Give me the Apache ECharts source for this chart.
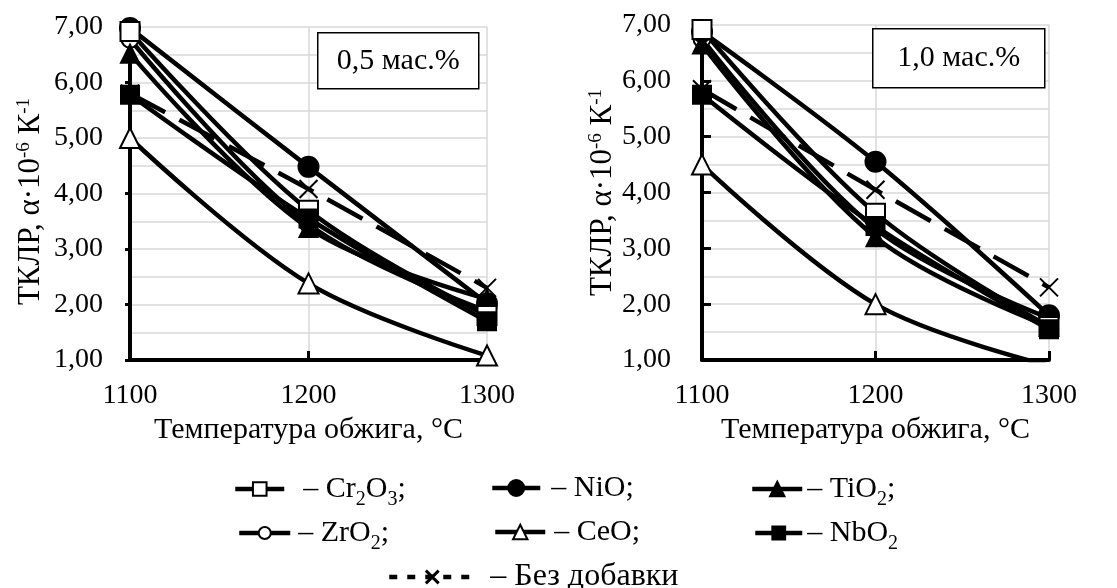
<!DOCTYPE html>
<html><head><meta charset="utf-8">
<script src="https://cdn.jsdelivr.net/npm/echarts@6/dist/echarts.min.js"></script>
<style>html,body{margin:0;padding:0;background:#fff}#c{width:1117px;height:588px}</style>
</head><body><div id="c"></div>
<script>
// ---------- data ----------
const categories = ['1100', '1200', '1300'];
const panelLabels = ['0,5 мас.%', '1,0 мас.%'];
const seriesNames = ['CeO', 'Без добавки', 'ZrO2', 'TiO2', 'NiO', 'Cr2O3', 'NbO2'];

// 0,5 мас.%
const cr05  = [6.92, 3.70, 1.80];
const nio05 = [6.98, 4.48, 2.02];
const tio05 = [6.52, 3.38, 2.10];
const zro05 = [6.78, 3.45, 1.88];
const ceo05 = [5.00, 2.38, 1.08];
const nbo05 = [5.78, 3.55, 1.70];
const base05 = [5.80, 4.08, 2.30];

// 1,0 мас.%
const cr10  = [6.92, 3.63, 1.60];
const nio10 = [6.88, 4.55, 1.80];
const tio10 = [6.65, 3.20, 1.60];
const zro10 = [6.75, 3.35, 1.75];
const ceo10 = [4.50, 2.00, 0.90];
const nbo10 = [5.75, 3.40, 1.55];
const base10 = [5.85, 4.05, 2.30];

const yMin = 1, yMax = 7, yStep = 1;

// ---------- styling ----------
const FONT = 'Liberation Serif';
const XPATH = 'path://M0,0L10,10M10,0L0,10';
const styles = {
  'Cr2O3':       {symbol: 'rect',     size: 19, fill: '#fff'},
  'NiO':         {symbol: 'circle',   size: 20, fill: '#000'},
  'TiO2':        {symbol: 'triangle', size: 18, fill: '#000'},
  'ZrO2':        {symbol: 'circle',   size: 17, fill: '#fff'},
  'CeO':         {symbol: 'triangle', size: 20, fill: '#fff'},
  'NbO2':        {symbol: 'rect',     size: 18, fill: '#000'},
  'Без добавки': {symbol: XPATH,      size: 18, fill: 'none', dashed: true}
};
const dataByPanel = [
  {'Cr2O3': cr05, 'NiO': nio05, 'TiO2': tio05, 'ZrO2': zro05, 'CeO': ceo05, 'NbO2': nbo05, 'Без добавки': base05},
  {'Cr2O3': cr10, 'NiO': nio10, 'TiO2': tio10, 'ZrO2': zro10, 'CeO': ceo10, 'NbO2': nbo10, 'Без добавки': base10}
];

const series = [];
[0, 1].forEach(p => {
  seriesNames.forEach(name => {
    const s = styles[name];
    series.push({
      type: 'line', name: name, xAxisIndex: p, yAxisIndex: p,
      data: dataByPanel[p][name],
      smooth: 0.35, clip: true,
      symbol: s.symbol, symbolSize: s.size,
      lineStyle: {color: '#000', width: 4.5, type: s.dashed ? [40, 16] : 'solid'},
      itemStyle: {color: s.dashed ? '#000' : s.fill, borderColor: '#000', borderWidth: 2},
      emphasis: {disabled: true},
      animation: false
    });
  });
});

const grids = [
  {left: 130, top: 27, width: 357, height: 333},
  {left: 702, top: 25, width: 347, height: 335}
];

const xAxes = [0, 1].map(p => ({
  type: 'category', gridIndex: p, data: categories, boundaryGap: false,
  name: 'Температура обжига, °С', nameLocation: 'middle', nameGap: 39,
  nameTextStyle: {fontFamily: FONT, fontSize: 30, color: '#000'},
  axisLine: {lineStyle: {color: '#000', width: 4}},
  axisTick: {inside: true, length: 9, lineStyle: {color: '#000', width: 3}},
  axisLabel: {fontFamily: FONT, fontSize: 28, color: '#000', margin: 22},
  splitLine: {show: true, lineStyle: {color: '#d9d9d9', width: 1.5}}
}));

const yAxes = [0, 1].map(p => ({
  type: 'value', gridIndex: p, min: yMin, max: yMax, interval: yStep,
  name: '{a|ТКЛР, α·10}{s|-6}{a| К}{s|-1}', nameLocation: 'middle', nameGap: 84, nameRotate: 90,
  nameTextStyle: {
    fontFamily: FONT, fontSize: 31, color: '#000',
    padding: p === 0 ? [0, 16, 0, 0] : 0,
    rich: {
      a: {fontFamily: FONT, fontSize: 31, color: '#000'},
      s: {fontFamily: FONT, fontSize: 19, color: '#000', verticalAlign: 'top', lineHeight: 19}
    }
  },
  axisLine: {show: true, lineStyle: {color: '#000', width: 4}},
  axisTick: {show: true, inside: p === 1, length: p === 1 ? 9 : 5, lineStyle: {color: '#000', width: 3}},
  minorTick: {show: false, splitNumber: 2},
  axisLabel: {fontFamily: FONT, fontSize: 28, color: '#000', margin: p === 1 ? 31 : 27,
    formatter: v => v.toFixed(2).replace('.', ',')},
  splitLine: {show: true, lineStyle: {color: '#d9d9d9', width: 1.5}},
  minorSplitLine: {show: true, lineStyle: {color: '#d9d9d9', width: 1.5}}
}));

// ---------- legends ----------
const legendText = {
  'Cr2O3': '{a|– Cr}{s|2}{b|O}{s|3}{b|;}',
  'NiO': '{a|– NiO;}',
  'TiO2': '{a|– TiO}{s|2}{b|;}',
  'ZrO2': '{a|– ZrO}{s|2}{b|;}',
  'CeO': '{a|– CeO;}',
  'NbO2': '{a|– NbO}{s|2}',
  'Без добавки': '{a|– Без добавки}'
};
const SUB_PAD = 16, SUB_LH = 20;
function leg(name, left, cy, w, h, pad, fs, extra) {
  const hasSub = legendText[name].indexOf('{s|') >= 0;
  const top = hasSub ? cy - 14 : cy - fs / 2;
  const o = {
    data: [name], left: left, top: top, padding: 0, selectedMode: false,
    itemWidth: w, itemHeight: h, orient: 'horizontal',
    formatter: n => legendText[n],
    lineStyle: {width: 4.5},
    textStyle: {
      fontFamily: FONT, fontSize: fs, color: '#000',
      rich: {
        a: {fontFamily: FONT, fontSize: fs, color: '#000', padding: [0, 0, 0, pad], lineHeight: fs},
        b: {fontFamily: FONT, fontSize: fs, color: '#000', lineHeight: fs},
        s: {fontFamily: FONT, fontSize: 20, color: '#000', verticalAlign: 'top', lineHeight: SUB_LH, padding: [SUB_PAD, 0, 0, 0]}
      }
    }
  };
  return Object.assign(o, extra || {});
}
const legends = [
  leg('Cr2O3', 233, 488, 49, 17, 14, 30),
  leg('NiO', 490, 488, 48, 20, 6, 30),
  leg('TiO2', 750, 488, 50, 18, 0, 30),
  leg('ZrO2', 237, 532, 51, 15, 3, 30),
  leg('CeO', 493, 532, 50, 18, 4, 30),
  leg('NbO2', 753, 532, 47, 16, 0, 30),
  leg('Без добавки', 387, 577, 86, 16, 10, 32, {lineStyle: {type: [8, 10], width: 4.5}, itemStyle: {borderWidth: 3}})
];

// ---------- panel labels ----------
const boxes = [
  {x: 317, y: 32, w: 161, h: 56},
  {x: 872, y: 28, w: 172, h: 59}
];
const graphic = boxes.map((b, i) => ({
  type: 'group', left: b.x, top: b.y, z: 50,
  children: [
    {type: 'rect', z: 50, shape: {x: 0, y: 0, width: b.w, height: b.h}, style: {fill: '#ffffff', stroke: '#000', lineWidth: 1.5}},
    {type: 'text', z: 51, x: b.w / 2, y: b.h / 2,
     style: {text: panelLabels[i], fontFamily: FONT, fontSize: 30, fill: '#000', align: 'center', verticalAlign: 'middle'}}
  ]
}));

const chart = echarts.init(document.getElementById('c'), null, {renderer: 'canvas'});
chart.setOption({
  backgroundColor: '#fff',
  animation: false,
  grid: grids,
  xAxis: xAxes,
  yAxis: yAxes,
  legend: legends,
  graphic: graphic,
  series: series
});
</script>
</body></html>
